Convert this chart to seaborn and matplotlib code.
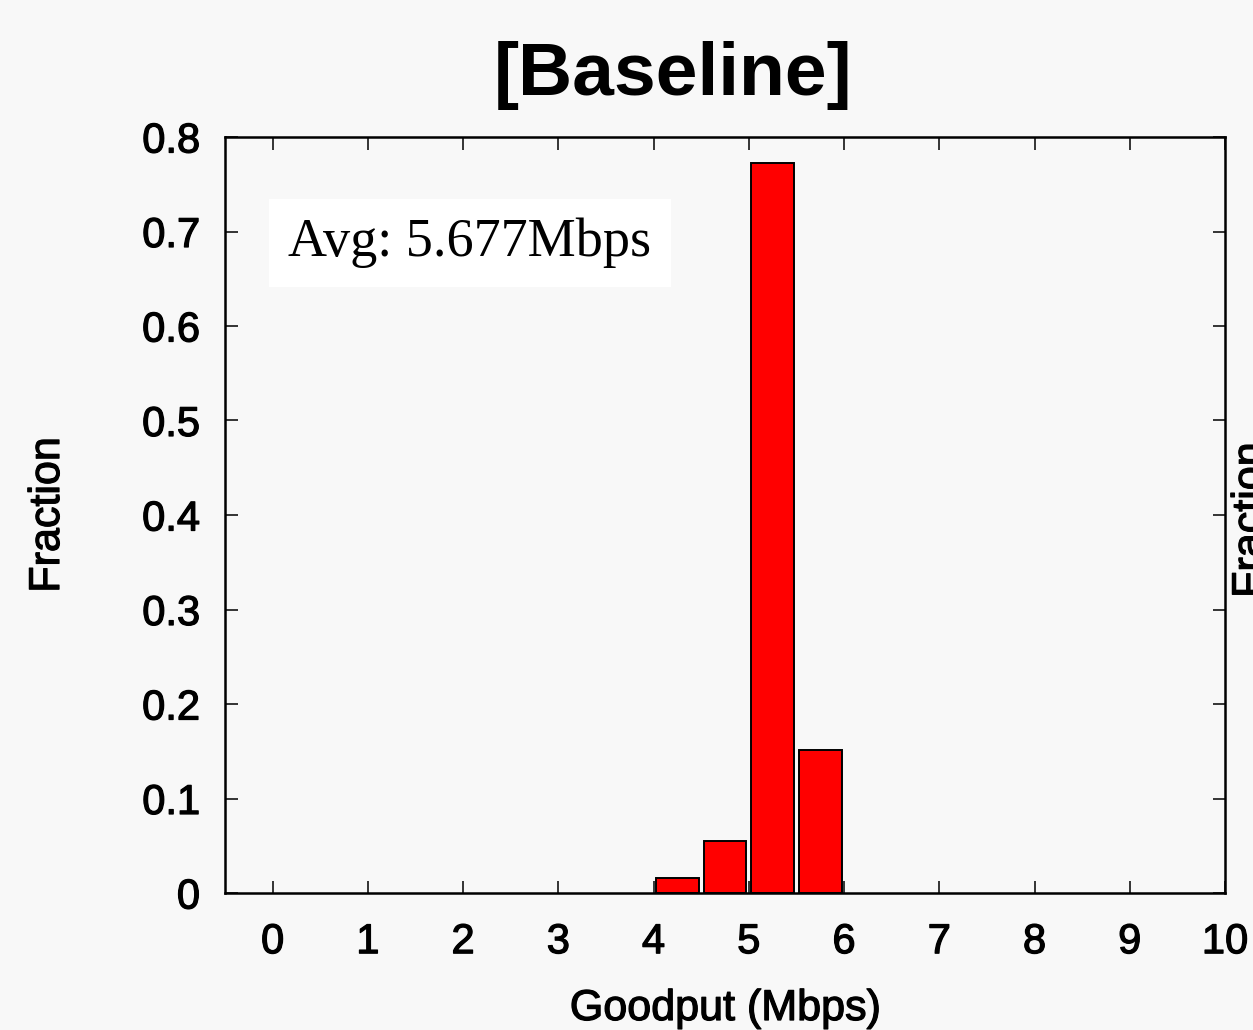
import pandas as pd
import matplotlib
matplotlib.use("Agg")
import matplotlib.pyplot as plt
import matplotlib.patheffects as pe
import seaborn as sns

# Goodput histogram (fraction per 0.5 Mbps bin)
bin_centers = [4.25, 4.75, 5.25, 5.75]
fractions = [0.016, 0.055, 0.773, 0.151]
x_ticks = [0, 1, 2, 3, 4, 5, 6, 7, 8, 9, 10]
y_ticks = [0, 0.1, 0.2, 0.3, 0.4, 0.5, 0.6, 0.7, 0.8]
y_tick_labels = ["0", "0.1", "0.2", "0.3", "0.4", "0.5", "0.6", "0.7", "0.8"]
avg_text = "Avg: 5.677Mbps"

df = pd.DataFrame({"goodput": bin_centers, "fraction": fractions})

sns.set_style("ticks")
plt.rcParams["font.family"] = ["Liberation Sans", "DejaVu Sans"]
plt.rcParams["text.color"] = "black"
plt.rcParams["axes.labelcolor"] = "black"
bg = "#f8f8f8"
heavy = [pe.withStroke(linewidth=0.9, foreground="black")]

fig = plt.figure(figsize=(12.53, 10.30), dpi=100, facecolor=bg)
ax = fig.add_axes([225 / 1253, 1 - 893 / 1030, 1000 / 1253, 756 / 1030])
ax.set_facecolor(bg)

sns.histplot(data=df, x="goodput", weights="fraction", binwidth=0.5, binrange=(4, 6),
             shrink=0.9, color="#ff0000", edgecolor="black", linewidth=1.4,
             alpha=1, ax=ax)

ax.set_xlim(-0.5, 10)
ax.set_ylim(0, 0.8)
ax.set_xticks(x_ticks)
ax.set_yticks(y_ticks)
ax.set_yticklabels(y_tick_labels)
ax.tick_params(direction="in", length=9, width=1.1, top=True, right=True,
               labelsize=30, colors="black")
ax.tick_params(axis="x", pad=21)
ax.tick_params(axis="y", pad=18)
for s in ax.spines.values():
    s.set_visible(True)
    s.set_linewidth(1.8)
    s.set_color("black")

ax.set_xlabel("Goodput (Mbps)", fontsize=31)
ax.set_ylabel("Fraction", fontsize=31)
ax.xaxis.set_label_coords(0.5, -0.127)
ax.yaxis.set_label_coords(-0.157, 0.5)

for t in ax.get_xticklabels() + ax.get_yticklabels() + [ax.xaxis.label, ax.yaxis.label]:
    t.set_path_effects(heavy)

ax.text(0.245, 0.86, avg_text, transform=ax.transAxes, ha="center", va="center",
        fontsize=39, family="Liberation Serif",
        bbox=dict(boxstyle="square,pad=0.35", facecolor="white", edgecolor="none"))

fig.text(673 / 1253, 1 - 75 / 1030, "[Baseline]", ha="center", va="center",
         fontsize=54, fontweight="bold")

# label of the neighbouring panel, clipped by the figure edge
fig.text(1231 / 1253, 0.495, "Fraction", rotation=90, ha="left", va="center",
         fontsize=31, path_effects=heavy)

fig.savefig("out.png", dpi=100, facecolor=bg)
